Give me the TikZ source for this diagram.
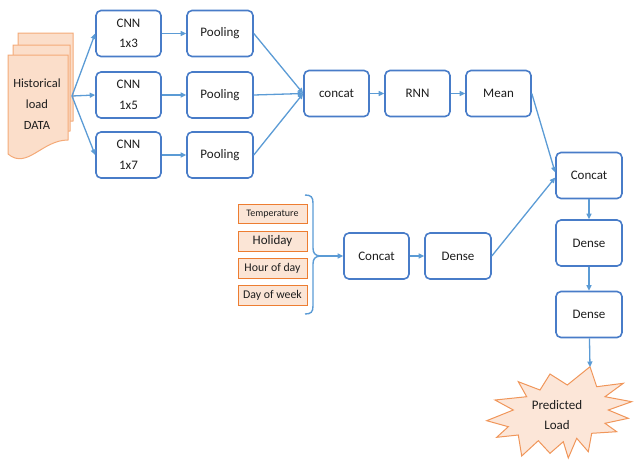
\documentclass[tikz,border=0pt]{standalone}
\usepackage{fontspec}
\setmainfont{Carlito}
\usetikzlibrary{arrows.meta}
\definecolor{boxblue}{RGB}{72,124,200}
\definecolor{linkblue}{RGB}{91,155,213}
\definecolor{txt}{RGB}{30,30,30}
\definecolor{featfill}{RGB}{251,229,214}
\definecolor{featline}{RGB}{237,125,49}
\definecolor{docfill}{RGB}{251,222,202}
\definecolor{docline}{RGB}{244,170,120}
\definecolor{starfill}{RGB}{252,230,216}
\definecolor{starline}{RGB}{240,150,90}
\begin{document}
\begin{tikzpicture}[x=1pt,y=-1pt,
  block/.style={draw=boxblue, line width=1.6pt, rounded corners=5pt, fill=white,
    minimum width=65pt, minimum height=46pt, align=center, text=txt,
    font=\fontsize{13}{20.5}\selectfont, inner sep=2pt},
  link/.style={draw=linkblue, line width=1.3pt, -{Triangle[length=5.5pt,width=5pt]}},
  feat/.style={draw=featline, fill=featfill, line width=1pt, minimum width=69pt,
    minimum height=19pt, text=txt, inner sep=0pt},
  page/.style={draw=docline, fill=docfill, line width=1pt},
]
\useasboundingbox (0,0) rectangle (635,459);

% stacked input pages
\filldraw[page] (18,33) -- (73,33) -- (73,121) .. controls (52,121) and (38,148) .. (18,135) -- cycle;
\filldraw[page] (13,45) -- (70,45) -- (70,131) .. controls (48,131) and (34,160) .. (13,145) -- cycle;
\filldraw[page] (8,55) -- (68,55) -- (68,140) .. controls (42,140) and (27,170) .. (8,154) -- cycle;
\node[text=txt, align=center, font=\fontsize{12.5}{21}\selectfont] (hist) at (37,104) {Historical\\load\\DATA};
\coordinate (docout) at (72,96);

% convolution branches
\node[block] (cnnA) at (128.5,33.5) {CNN\\1x3};
\node[block] (cnnB) at (128.5,95) {CNN\\1x5};
\node[block] (cnnC) at (128.5,155) {CNN\\1x7};
\node[block, minimum width=66pt] (poolA) at (220,33.5) {Pooling};
\node[block, minimum width=66pt] (poolB) at (220,95) {Pooling};
\node[block, minimum width=66pt] (poolC) at (220,155) {Pooling};

% sequence path
\node[block] (concatA) at (336.5,93.5) {concat};
\node[block] (rnn) at (417.5,93.5) {RNN};
\node[block] (mean) at (498.5,93.5) {Mean};

% output path
\node[block, minimum width=66pt] (concatB) at (589,175.5) {Concat};
\node[block, minimum width=66pt] (denseB) at (589,243) {Dense};
\node[block, minimum width=66pt] (denseC) at (589,314.5) {Dense};

% auxiliary features
\node[feat, font=\fontsize{10}{12}\selectfont] (temp) at (272.5,214) {Temperature};
\node[feat, font=\fontsize{13}{14}\selectfont, minimum height=20pt] (hol) at (272.5,241) {Holiday};
\node[feat, font=\fontsize{11.8}{14}\selectfont, minimum height=20pt] (hour) at (272.5,268) {Hour of day};
\node[feat, font=\fontsize{11.8}{14}\selectfont, minimum height=20pt] (dow) at (272.5,295) {Day of week};
\draw[draw=linkblue, line width=1.4pt]
  (305,195) .. controls (311,195) and (313,197) .. (313,203) -- (313,248)
  .. controls (313,253) and (315,255.5) .. (320,256)
  .. controls (315,256.5) and (313,259) .. (313,264) -- (313,306)
  .. controls (313,312) and (311,314) .. (305,314);
\coordinate (bracetip) at (320,256);
\node[block] (concatM) at (376.5,256) {Concat};
\node[block, minimum width=66pt] (denseM) at (458,256) {Dense};

% prediction burst
\filldraw[draw=starline, fill=starfill, line width=1pt, line join=miter]
  (590,366.7) -- (567.3,385) -- (550,374) -- (540,390) -- (518.3,381.7) -- (526.7,396.7)
  -- (495,400) -- (513.3,410) -- (486.7,420.7) -- (508.3,426.7) -- (496.7,437.3)
  -- (518.3,435) -- (521.7,456) -- (538.3,440.7) -- (550,453.3) -- (563.3,441.7)
  -- (568.3,458) -- (576.7,438.3) -- (588.3,451.7) -- (591.7,433.3) -- (616.7,431.7)
  -- (605,423.3) -- (628.3,418.3) -- (608.3,410) -- (631.7,401.7) -- (605,396.7)
  -- (623.3,383.3) -- (596.7,386.7) -- cycle;
\node[text=txt, align=center, font=\fontsize{13}{20.5}\selectfont] (pred) at (557,415) {Predicted\\Load};
\coordinate (burst) at (590,367);

% connectors
\draw[link] (docout) -- (cnnA.west);
\draw[link] (docout) -- (cnnB.west);
\draw[link] (docout) -- (cnnC.west);
\draw[link] (cnnA) -- (poolA);
\draw[link] (cnnB) -- (poolB);
\draw[link] (cnnC) -- (poolC);
\draw[link] (poolA.east) -- (concatA.west);
\draw[link] (poolB.east) -- (concatA.west);
\draw[link] (poolC.east) -- (concatA.west);
\draw[link] (concatA) -- (rnn);
\draw[link] (rnn) -- (mean);
\draw[link] (mean.east) -- ([yshift=3pt]concatB.west);
\draw[link] (bracetip) -- (concatM);
\draw[link] (concatM) -- (denseM);
\draw[link] (denseM.east) -- ([yshift=-2pt]concatB.west);
\draw[link] (concatB) -- (denseB);
\draw[link] (denseB) -- (denseC);
\draw[link] (denseC) -- (burst);
\end{tikzpicture}
\end{document}
